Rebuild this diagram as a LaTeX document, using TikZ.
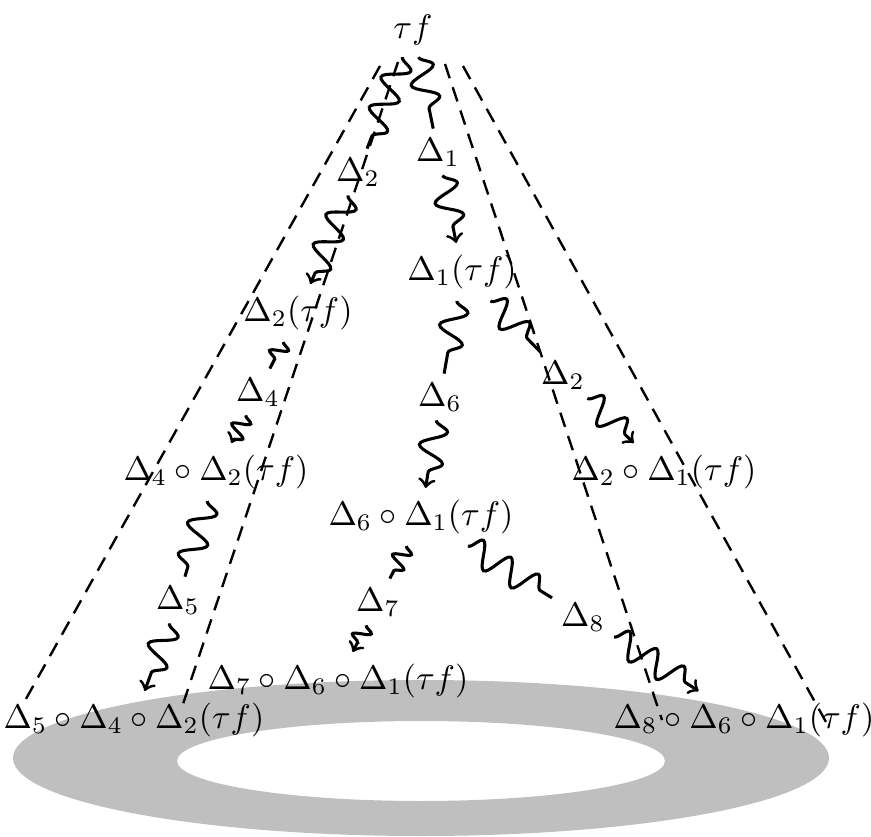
\documentclass[tikz,border=0pt]{standalone}
\usetikzlibrary{decorations.pathmorphing,arrows}
\tikzset{
  squig/.style={line width=0.9pt,decorate,decoration={snake,amplitude=3.8pt,segment length=9.5pt,post length=3pt}},
  squigarr/.style={squig,-to},
  shortsquig/.style={squig,decoration={snake,amplitude=2.5pt,segment length=5pt,pre length=0pt,post length=1pt}},
  shortsquigarr/.style={shortsquig,-to},
  conedash/.style={line width=0.7pt,dash pattern=on 4.4pt off 2.8pt},
  lbl/.style={inner sep=2.5pt},
}
\begin{document}
\begin{tikzpicture}[x=0.294pt,y=-0.294pt]
\useasboundingbox (0,0) rectangle (871,837);
% annulus
\fill[gray!50,even odd rule] (421,758) ellipse [x radius=408, y radius=78]
  (421,761) ellipse [x radius=244, y radius=40];
% cone
\coordinate (A1) at (380,66); \coordinate (A2) at (22,706);
\coordinate (B1) at (398,62); \coordinate (B2) at (181,710);
\coordinate (C1) at (445,64); \coordinate (C2) at (662,720);
\coordinate (D1) at (463,66); \coordinate (D2) at (826,722);
\draw[conedash] (A1) -- (A2);
\draw[conedash] (B1) -- (B2);
\draw[conedash] (C1) -- (C2);
\draw[conedash] (D1) -- (D2);
% nodes
\node (tf) at (413,30) {$\tau f$};
\node (d1) at (462,272) {$\Delta_1(\tau f)$};
\node (d2) at (298,313) {$\Delta_2(\tau f)$};
\node (d42) at (216,472) {$\Delta_4\circ\Delta_2(\tau f)$};
\node (d61) at (421,517) {$\Delta_6\circ\Delta_1(\tau f)$};
\node (d21) at (664,472) {$\Delta_2\circ\Delta_1(\tau f)$};
\node (d761) at (338,681) {$\Delta_7\circ\Delta_6\circ\Delta_1(\tau f)$};
\node (d542) at (134,720) {$\Delta_5\circ\Delta_4\circ\Delta_2(\tau f)$};
\node (d861) at (744,720) {$\Delta_8\circ\Delta_6\circ\Delta_1(\tau f)$};
% labels
\node[lbl] (l1) at (438,152) {$\Delta_1$};
\node[lbl] (l2) at (358,172) {$\Delta_2$};
\node[lbl] (l6) at (440,397) {$\Delta_6$};
\node[lbl] (l2b) at (563,375) {$\Delta_2$};
\node[lbl] (l4) at (258,392) {$\Delta_4$};
\node[lbl] (l5) at (178,600) {$\Delta_5$};
\node[lbl] (l7) at (378,602) {$\Delta_7$};
\node[lbl] (l8) at (583,617) {$\Delta_8$};
% arrows
\draw[squig] (tf) -- (l1); \draw[squigarr] (l1) -- (d1);
\draw[squig] (tf) -- (l2); \draw[squigarr] (l2) -- (d2);
\draw[squig] (d1) -- (l6); \draw[squigarr] (l6) -- (d61);
\draw[squig] (d1) -- (l2b); \draw[squigarr] (l2b) -- (d21);
\draw[shortsquig] (d2) -- (l4); \draw[shortsquigarr] (l4) -- (d42);
\draw[squig] (d42) -- (l5); \draw[squigarr] (l5) -- (d542);
\draw[shortsquig] (d61) -- (l7); \draw[shortsquigarr] (l7) -- (d761);
\draw[squig] (d61) -- (l8); \draw[squigarr] (l8) -- (d861);
\end{tikzpicture}
\end{document}
